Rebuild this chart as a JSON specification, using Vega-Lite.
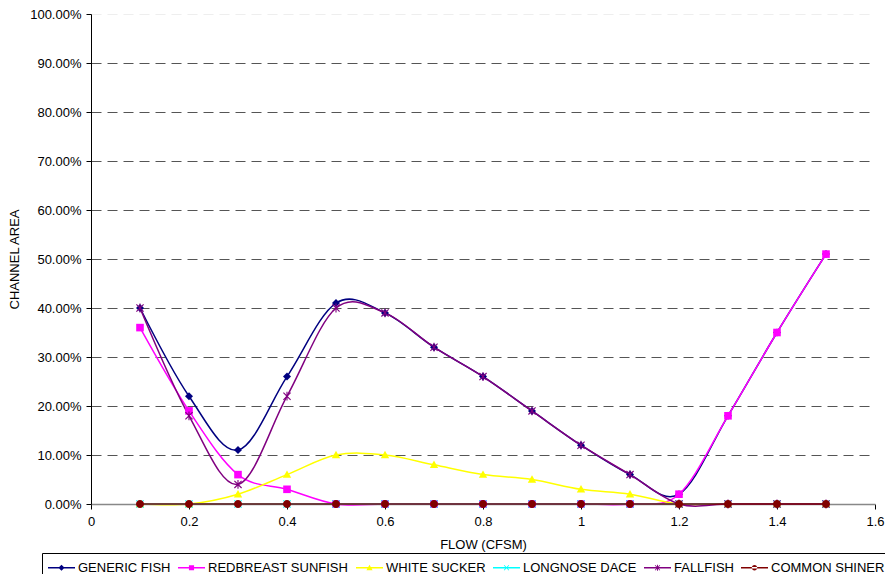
{
  "$schema": "https://vega.github.io/schema/vega-lite/v6.json",
  "width": 784,
  "height": 490,
  "autosize": {"type": "none"},
  "padding": {"left": 91, "top": 14, "right": 10, "bottom": 70},
  "background": "white",
  "config": {"view": {"stroke": null}, "font": "Liberation Sans"},
  "data": {"values": [
    {"series": "GENERIC FISH", "flow": 0.1, "value": 0.40},
    {"series": "GENERIC FISH", "flow": 0.2, "value": 0.22},
    {"series": "GENERIC FISH", "flow": 0.3, "value": 0.11},
    {"series": "GENERIC FISH", "flow": 0.4, "value": 0.26},
    {"series": "GENERIC FISH", "flow": 0.5, "value": 0.41},
    {"series": "GENERIC FISH", "flow": 0.6, "value": 0.39},
    {"series": "GENERIC FISH", "flow": 0.7, "value": 0.32},
    {"series": "GENERIC FISH", "flow": 0.8, "value": 0.26},
    {"series": "GENERIC FISH", "flow": 0.9, "value": 0.19},
    {"series": "GENERIC FISH", "flow": 1.0, "value": 0.12},
    {"series": "GENERIC FISH", "flow": 1.1, "value": 0.06},
    {"series": "GENERIC FISH", "flow": 1.2, "value": 0.02},
    {"series": "GENERIC FISH", "flow": 1.3, "value": 0.18},
    {"series": "GENERIC FISH", "flow": 1.4, "value": 0.35},
    {"series": "GENERIC FISH", "flow": 1.5, "value": 0.51},
    {"series": "REDBREAST SUNFISH", "flow": 0.1, "value": 0.36},
    {"series": "REDBREAST SUNFISH", "flow": 0.2, "value": 0.19},
    {"series": "REDBREAST SUNFISH", "flow": 0.3, "value": 0.06},
    {"series": "REDBREAST SUNFISH", "flow": 0.4, "value": 0.03},
    {"series": "REDBREAST SUNFISH", "flow": 0.5, "value": 0},
    {"series": "REDBREAST SUNFISH", "flow": 0.6, "value": 0},
    {"series": "REDBREAST SUNFISH", "flow": 0.7, "value": 0},
    {"series": "REDBREAST SUNFISH", "flow": 0.8, "value": 0},
    {"series": "REDBREAST SUNFISH", "flow": 0.9, "value": 0},
    {"series": "REDBREAST SUNFISH", "flow": 1.0, "value": 0},
    {"series": "REDBREAST SUNFISH", "flow": 1.1, "value": 0},
    {"series": "REDBREAST SUNFISH", "flow": 1.2, "value": 0.02},
    {"series": "REDBREAST SUNFISH", "flow": 1.3, "value": 0.18},
    {"series": "REDBREAST SUNFISH", "flow": 1.4, "value": 0.35},
    {"series": "REDBREAST SUNFISH", "flow": 1.5, "value": 0.51},
    {"series": "WHITE SUCKER", "flow": 0.1, "value": 0},
    {"series": "WHITE SUCKER", "flow": 0.2, "value": 0},
    {"series": "WHITE SUCKER", "flow": 0.3, "value": 0.02},
    {"series": "WHITE SUCKER", "flow": 0.4, "value": 0.06},
    {"series": "WHITE SUCKER", "flow": 0.5, "value": 0.10},
    {"series": "WHITE SUCKER", "flow": 0.6, "value": 0.10},
    {"series": "WHITE SUCKER", "flow": 0.7, "value": 0.08},
    {"series": "WHITE SUCKER", "flow": 0.8, "value": 0.06},
    {"series": "WHITE SUCKER", "flow": 0.9, "value": 0.05},
    {"series": "WHITE SUCKER", "flow": 1.0, "value": 0.03},
    {"series": "WHITE SUCKER", "flow": 1.1, "value": 0.02},
    {"series": "WHITE SUCKER", "flow": 1.2, "value": 0},
    {"series": "WHITE SUCKER", "flow": 1.3, "value": 0},
    {"series": "WHITE SUCKER", "flow": 1.4, "value": 0},
    {"series": "WHITE SUCKER", "flow": 1.5, "value": 0},
    {"series": "LONGNOSE DACE", "flow": 0.1, "value": 0},
    {"series": "LONGNOSE DACE", "flow": 0.2, "value": 0},
    {"series": "LONGNOSE DACE", "flow": 0.3, "value": 0},
    {"series": "LONGNOSE DACE", "flow": 0.4, "value": 0},
    {"series": "LONGNOSE DACE", "flow": 0.5, "value": 0},
    {"series": "LONGNOSE DACE", "flow": 0.6, "value": 0},
    {"series": "LONGNOSE DACE", "flow": 0.7, "value": 0},
    {"series": "LONGNOSE DACE", "flow": 0.8, "value": 0},
    {"series": "LONGNOSE DACE", "flow": 0.9, "value": 0},
    {"series": "LONGNOSE DACE", "flow": 1.0, "value": 0},
    {"series": "LONGNOSE DACE", "flow": 1.1, "value": 0},
    {"series": "LONGNOSE DACE", "flow": 1.2, "value": 0},
    {"series": "LONGNOSE DACE", "flow": 1.3, "value": 0},
    {"series": "LONGNOSE DACE", "flow": 1.4, "value": 0},
    {"series": "LONGNOSE DACE", "flow": 1.5, "value": 0},
    {"series": "FALLFISH", "flow": 0.1, "value": 0.40},
    {"series": "FALLFISH", "flow": 0.2, "value": 0.18},
    {"series": "FALLFISH", "flow": 0.3, "value": 0.04},
    {"series": "FALLFISH", "flow": 0.4, "value": 0.22},
    {"series": "FALLFISH", "flow": 0.5, "value": 0.40},
    {"series": "FALLFISH", "flow": 0.6, "value": 0.39},
    {"series": "FALLFISH", "flow": 0.7, "value": 0.32},
    {"series": "FALLFISH", "flow": 0.8, "value": 0.26},
    {"series": "FALLFISH", "flow": 0.9, "value": 0.19},
    {"series": "FALLFISH", "flow": 1.0, "value": 0.12},
    {"series": "FALLFISH", "flow": 1.1, "value": 0.06},
    {"series": "FALLFISH", "flow": 1.2, "value": 0},
    {"series": "FALLFISH", "flow": 1.3, "value": 0},
    {"series": "FALLFISH", "flow": 1.4, "value": 0},
    {"series": "FALLFISH", "flow": 1.5, "value": 0},
    {"series": "COMMON SHINER", "flow": 0.1, "value": 0},
    {"series": "COMMON SHINER", "flow": 0.2, "value": 0},
    {"series": "COMMON SHINER", "flow": 0.3, "value": 0},
    {"series": "COMMON SHINER", "flow": 0.4, "value": 0},
    {"series": "COMMON SHINER", "flow": 0.5, "value": 0},
    {"series": "COMMON SHINER", "flow": 0.6, "value": 0},
    {"series": "COMMON SHINER", "flow": 0.7, "value": 0},
    {"series": "COMMON SHINER", "flow": 0.8, "value": 0},
    {"series": "COMMON SHINER", "flow": 0.9, "value": 0},
    {"series": "COMMON SHINER", "flow": 1.0, "value": 0},
    {"series": "COMMON SHINER", "flow": 1.1, "value": 0},
    {"series": "COMMON SHINER", "flow": 1.2, "value": 0},
    {"series": "COMMON SHINER", "flow": 1.3, "value": 0},
    {"series": "COMMON SHINER", "flow": 1.4, "value": 0},
    {"series": "COMMON SHINER", "flow": 1.5, "value": 0}
  ]},
  "layer": [
    {
      "mark": {"type": "line", "interpolate": "cardinal", "strokeWidth": 1.5},
      "encoding": {
        "x": {
          "field": "flow", "type": "quantitative",
          "scale": {"domain": [0, 1.6], "nice": false, "zero": false},
          "axis": {
            "values": [0, 0.2, 0.4, 0.6, 0.8, 1, 1.2, 1.4, 1.6],
            "format": "~g",
            "grid": false,
            "title": "FLOW (CFSM)",
            "titleFontSize": 13, "titleFontWeight": "normal", "titleColor": "#000", "titlePadding": 10,
            "labelFontSize": 13, "labelColor": "#000", "labelPadding": 6, "labelFlush": false,
            "tickColor": "#000", "tickSize": 5, "domainColor": "#888", "domainWidth": 1.5
          }
        },
        "y": {
          "field": "value", "type": "quantitative",
          "scale": {"domain": [0, 1], "nice": false},
          "axis": {
            "values": [0, 0.1, 0.2, 0.3, 0.4, 0.5, 0.6, 0.7, 0.8, 0.9, 1],
            "format": ".2%",
            "title": "CHANNEL AREA",
            "titleFontSize": 13, "titleFontWeight": "normal", "titleColor": "#000", "titlePadding": 8,
            "labelFontSize": 13, "labelColor": "#000", "labelPadding": 5,
            "tickColor": "#000", "tickSize": 5, "domainColor": "#000",
            "grid": true, "gridDash": [10, 6], "gridColor": "#555",
            "gridOpacity": {"condition": {"test": "datum.value >= 1 || datum.value <= 0", "value": 0.1}, "value": 1}
          }
        },
        "color": {
          "field": "series", "type": "nominal",
          "scale": {
            "domain": ["GENERIC FISH", "REDBREAST SUNFISH", "WHITE SUCKER", "LONGNOSE DACE", "FALLFISH", "COMMON SHINER"],
            "range": ["#000080", "#FF00FF", "#FFFF00", "#00FFFF", "#800080", "#800000"]
          },
          "legend": null
        }
      }
    },
    {
      "mark": {"type": "point", "filled": true, "opacity": 1, "size": 64, "strokeWidth": 0},
      "encoding": {
        "x": {"field": "flow", "type": "quantitative"},
        "y": {"field": "value", "type": "quantitative"},
        "color": {
          "field": "series", "type": "nominal",
          "scale": {
            "domain": ["GENERIC FISH", "REDBREAST SUNFISH", "WHITE SUCKER", "LONGNOSE DACE", "FALLFISH", "COMMON SHINER"],
            "range": ["#000080", "#FF00FF", "#FFFF00", "#00FFFF", "#800080", "#800000"]
          },
          "legend": null
        },
        "shape": {
          "field": "series", "type": "nominal",
          "scale": {
            "domain": ["GENERIC FISH", "REDBREAST SUNFISH", "WHITE SUCKER", "LONGNOSE DACE", "FALLFISH", "COMMON SHINER"],
            "range": [
              "M0,-1L1,0L0,1L-1,0Z",
              "M-0.95,-0.95H0.95V0.95H-0.95Z",
              "M0,-1.05L1.05,0.8H-1.05Z",
              "M-1,-0.8L-0.8,-1L1,0.8L0.8,1Z M0.8,-1L1,-0.8L-0.8,1L-1,0.8Z",
              "M-1,-0.8L-0.8,-1L1,0.8L0.8,1Z M0.8,-1L1,-0.8L-0.8,1L-1,0.8Z M-0.14,-1.1H0.14V1.1H-0.14Z",
              "M-1,0A1,1,0,1,0,1,0A1,1,0,1,0,-1,0Z"
            ]
          },
          "legend": null
        }
      }
    },
    {
      "transform": [{"filter": "false"}],
      "mark": {"type": "point", "filled": true, "opacity": 1, "strokeWidth": 0},
      "encoding": {
        "color": {
          "field": "series", "type": "nominal",
          "scale": {
            "domain": ["GENERIC FISH", "REDBREAST SUNFISH", "WHITE SUCKER", "LONGNOSE DACE", "FALLFISH", "COMMON SHINER"],
            "range": ["#000080", "#FF00FF", "#FFFF00", "#00FFFF", "#800080", "#800000"]
          },
          "legend": {
            "orient": "none", "legendX": -49, "legendY": 539,
            "direction": "horizontal", "columns": 6,
            "title": null,
            "strokeColor": "#000", "padding": 1, "symbolOffset": 5,
            "labelFontSize": 13, "labelColor": "#000", "labelFont": "Liberation Sans", "labelLimit": 300,
            "labelOffset": 3, "columnPadding": 2,
            "symbolSize": 729, "symbolStrokeWidth": 0, "symbolOpacity": 1
          }
        },
        "shape": {
          "field": "series", "type": "nominal",
          "scale": {
            "domain": ["GENERIC FISH", "REDBREAST SUNFISH", "WHITE SUCKER", "LONGNOSE DACE", "FALLFISH", "COMMON SHINER"],
            "range": [
              "M-1,-0.05H1V0.05H-1Z M0,-0.23L0.23,0L0,0.23L-0.23,0Z",
              "M-1,-0.05H1V0.05H-1Z M-0.19,-0.19H0.19V0.19H-0.19Z",
              "M-1,-0.05H1V0.05H-1Z M0,-0.23L0.23,0.18H-0.23Z",
              "M-1,-0.05H1V0.05H-1Z M-0.2,-0.16L-0.16,-0.2L0.2,0.16L0.16,0.2Z M0.16,-0.2L0.2,-0.16L-0.16,0.2L-0.2,0.16Z",
              "M-1,-0.05H1V0.05H-1Z M-0.2,-0.16L-0.16,-0.2L0.2,0.16L0.16,0.2Z M0.16,-0.2L0.2,-0.16L-0.16,0.2L-0.2,0.16Z M-0.035,-0.22H0.035V0.22H-0.035Z",
              "M-1,-0.05H1V0.05H-1Z M-0.2,0A0.2,0.2,0,1,0,0.2,0A0.2,0.2,0,1,0,-0.2,0Z"
            ]
          },
          "legend": {
            "orient": "none", "legendX": -49, "legendY": 539,
            "direction": "horizontal", "columns": 6,
            "title": null,
            "strokeColor": "#000", "padding": 1, "symbolOffset": 5,
            "labelFontSize": 13, "labelColor": "#000", "labelFont": "Liberation Sans", "labelLimit": 300,
            "labelOffset": 3, "columnPadding": 2,
            "symbolSize": 729, "symbolStrokeWidth": 0, "symbolOpacity": 1
          }
        }
      }
    }
  ],
  "resolve": {"scale": {"color": "independent", "shape": "independent"}}
}
